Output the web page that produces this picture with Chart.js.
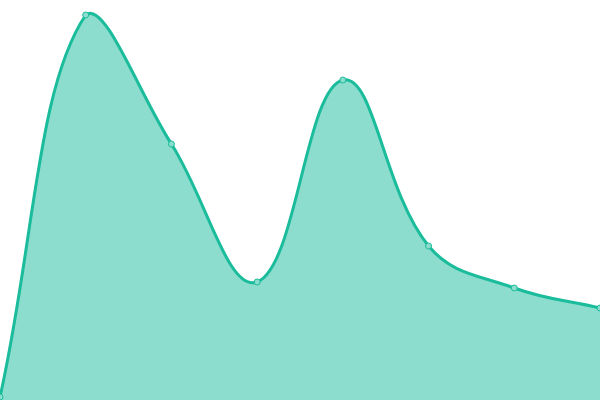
<!DOCTYPE html>
<html><head><meta charset="utf-8">
<script src="https://cdn.jsdelivr.net/npm/chart.js@4"></script>
<style>html,body{margin:0;padding:0;background:#fff}#wrap{width:600px;height:400px}</style>
</head><body><div id="wrap"><canvas id="c"></canvas></div>
<script>
const labels = ['A','B','C','D','E','F','G','H'];
const values = [3, 385, 256, 118, 320, 154, 112, 92];
new Chart(document.getElementById('c'), {
  type: 'line',
  data: { labels: labels, datasets: [{
    data: values,
    fill: true,
    backgroundColor: 'rgba(26,188,156,0.5)',
    borderColor: '#1abc9c',
    borderWidth: 3,
    tension: 0.4,
    pointRadius: 3,
    pointBackgroundColor: 'rgba(140,221,205,1)',
    pointBorderColor: '#1abc9c',
    pointBorderWidth: 1
  }]},
  options: {
    responsive: true, maintainAspectRatio: false, animation: false,
    layout: { padding: 0, autoPadding: false },
    plugins: { legend: { display: false }, tooltip: { enabled: false } },
    scales: {
      x: { display: false, offset: false },
      y: { display: false, min: 0, max: 400 }
    }
  }
});
</script></body></html>
